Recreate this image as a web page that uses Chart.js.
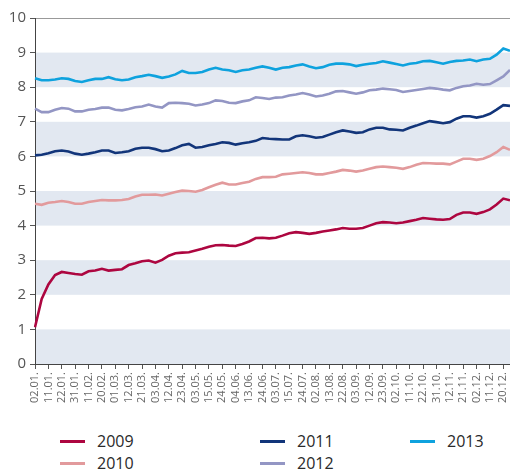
<!DOCTYPE html>
<html>
<head>
<meta charset="utf-8">
<script src="https://cdn.jsdelivr.net/npm/chart.js@4/dist/chart.umd.min.js"></script>
<style>
  html, body { margin: 0; padding: 0; background: #fff; }
  #wrap { position: relative; width: 510px; height: 472px; }
  #chartBox { position: absolute; left: 0; top: 0; width: 510px; height: 410px; }
  #legend {
    position: absolute; left: 60px; top: 430px;
    display: grid; grid-template-columns: 200px 150px 100px;
    grid-template-rows: 22px 22px; grid-auto-flow: column;
    font-family: "Open Sans", "DejaVu Sans", sans-serif; font-size: 16px; color: #2a2a2a;
  }
  .item { display: flex; align-items: center; height: 22px; }
  .sw { width: 25px; height: 3px; margin-right: 12px; }
</style>
</head>
<body>
<div id="wrap">
  <div id="chartBox"><canvas id="c" width="510" height="410"></canvas></div>
  <div id="legend"></div>
</div>
<script>
const tickLabels = ['02.01.','11.01.','22.01.','31.01.','11.02.','20.02.','01.03.','12.03.','21.03.','03.04.','12.04.','23.04.','03.05.','15.05.','24.05.','04.06.','13.06.','24.06.','03.07.','15.07.','24.07.','02.08.','13.08.','22.08.','03.09.','12.09.','23.09.','02.10.','11.10.','22.10.','31.10.','12.11.','21.11.','02.12.','11.12.','20.12.'];

const seriesNames = ['2009','2010','2011','2012','2013'];
const seriesColors = ['#ad0640','#e29a9c','#12357a','#9396c4','#0ea2de'];

const s2009 = [1.06,1.88,2.30,2.57,2.66,2.63,2.60,2.58,2.68,2.70,2.75,2.70,2.72,2.74,2.86,2.91,2.97,2.99,
  2.93,3.01,3.13,3.20,3.22,3.23,3.28,3.33,3.39,3.43,3.44,3.42,3.41,3.47,3.54,3.64,3.65,3.63,
  3.65,3.71,3.78,3.81,3.79,3.76,3.79,3.83,3.86,3.89,3.93,3.91,3.91,3.93,4.00,4.07,4.10,4.09,
  4.07,4.09,4.13,4.17,4.22,4.20,4.18,4.17,4.19,4.31,4.38,4.38,4.34,4.39,4.47,4.61,4.78,4.73];
const s2010 = [4.63,4.60,4.66,4.68,4.71,4.68,4.63,4.63,4.68,4.71,4.74,4.73,4.73,4.74,4.77,4.84,4.89,4.89,
  4.90,4.87,4.92,4.97,5.01,5.00,4.98,5.03,5.11,5.18,5.24,5.19,5.19,5.23,5.27,5.35,5.40,5.40,
  5.41,5.48,5.50,5.52,5.54,5.52,5.48,5.48,5.52,5.56,5.61,5.59,5.56,5.59,5.64,5.69,5.71,5.69,
  5.67,5.64,5.69,5.76,5.81,5.80,5.79,5.79,5.77,5.85,5.93,5.93,5.90,5.93,6.01,6.12,6.27,6.19];
const s2011 = [6.03,6.05,6.09,6.15,6.17,6.14,6.08,6.05,6.08,6.12,6.17,6.17,6.10,6.12,6.15,6.22,6.25,6.25,
  6.21,6.15,6.17,6.24,6.32,6.36,6.25,6.27,6.32,6.36,6.41,6.39,6.34,6.38,6.41,6.45,6.53,6.51,
  6.50,6.49,6.49,6.58,6.61,6.58,6.54,6.56,6.63,6.70,6.75,6.72,6.68,6.70,6.78,6.83,6.83,6.78,
  6.77,6.75,6.83,6.89,6.96,7.02,6.99,6.96,6.99,7.09,7.16,7.16,7.12,7.16,7.23,7.35,7.48,7.46];
const s2012 = [7.38,7.28,7.28,7.35,7.40,7.38,7.30,7.30,7.35,7.37,7.41,7.41,7.35,7.33,7.37,7.42,7.44,7.50,
  7.44,7.41,7.54,7.55,7.54,7.52,7.47,7.50,7.54,7.62,7.60,7.55,7.54,7.59,7.62,7.71,7.69,7.66,
  7.70,7.71,7.76,7.79,7.83,7.79,7.73,7.76,7.81,7.88,7.89,7.85,7.81,7.85,7.91,7.93,7.96,7.94,
  7.92,7.86,7.89,7.92,7.95,7.98,7.96,7.93,7.91,7.98,8.03,8.05,8.10,8.07,8.09,8.20,8.31,8.50];
const s2013 = [8.26,8.20,8.20,8.22,8.26,8.24,8.18,8.15,8.20,8.24,8.24,8.29,8.23,8.20,8.22,8.29,8.32,8.36,
  8.32,8.27,8.31,8.37,8.47,8.41,8.41,8.44,8.51,8.56,8.51,8.49,8.44,8.49,8.51,8.56,8.60,8.56,
  8.51,8.56,8.58,8.63,8.66,8.60,8.55,8.58,8.65,8.68,8.68,8.66,8.61,8.65,8.68,8.70,8.75,8.71,
  8.67,8.63,8.68,8.70,8.75,8.76,8.72,8.68,8.73,8.76,8.77,8.80,8.75,8.80,8.82,8.94,9.12,9.05];

const seriesValues = [s2009, s2010, s2011, s2012, s2013];
const bandRanges = [[0,1],[2,3],[4,5],[6,7],[8,9]];

// category list: each tick label followed by an unlabeled half-step sample
const categories = tickLabels.flatMap(l => [l, '']);

const bandsPlugin = {
  id: 'bands',
  beforeDraw(chart) {
    const { ctx, chartArea, scales } = chart;
    const y = scales.y;
    ctx.save();
    ctx.fillStyle = '#e2e8f1';
    bandRanges.forEach(([a, b]) => {
      const top = y.getPixelForValue(b);
      const bot = y.getPixelForValue(a);
      ctx.fillRect(chartArea.left, top, chartArea.right - chartArea.left, bot - top);
    });
    ctx.restore();
  }
};

const font = '"Open Sans", "DejaVu Sans", sans-serif';

new Chart(document.getElementById('c'), {
  type: 'line',
  data: {
    labels: categories,
    datasets: seriesNames.map((n, k) => ({
      label: n,
      data: seriesValues[k],
      borderColor: seriesColors[k],
      backgroundColor: seriesColors[k],
      borderWidth: 2.6,
      pointRadius: 0,
      tension: 0,
      fill: false
    })).reverse()
  },
  options: {
    responsive: false,
    animation: false,
    layout: { padding: { left: 0, right: 0, top: 18, bottom: 0 } },
    plugins: { legend: { display: false }, tooltip: { enabled: false } },
    scales: {
      x: {
        type: 'category',
        offset: false,
        grid: {
          drawOnChartArea: false, drawTicks: true, tickLength: 5, tickWidth: 1,
          tickColor: (c) => (c.index % 2 === 0 ? '#555' : 'rgba(0,0,0,0)')
        },
        border: { display: true, color: '#444', width: 1 },
        ticks: {
          autoSkip: false, maxRotation: 90, minRotation: 90, padding: 3,
          font: { family: font, size: 11 }, color: '#666'
        },
        afterFit(a) { a.height = 46; a.paddingLeft = 0; a.paddingRight = 0; }
      },
      y: {
        min: 0, max: 10,
        ticks: { stepSize: 1, padding: 4, font: { family: font, size: 15 }, color: '#555' },
        grid: {
          drawOnChartArea: true, drawTicks: true, tickLength: 5,
          color: (c) => (c.tick && c.tick.value === 10 ? '#999' : 'rgba(0,0,0,0)'),
          tickColor: '#555'
        },
        border: { display: true, color: '#444', width: 1 },
        afterFit(a) { a.width = 35; }
      }
    }
  },
  plugins: [bandsPlugin]
});

const legend = document.getElementById('legend');
seriesNames.forEach((n, k) => {
  const it = document.createElement('div');
  it.className = 'item';
  const sw = document.createElement('span');
  sw.className = 'sw';
  sw.style.background = seriesColors[k];
  const tx = document.createElement('span');
  tx.textContent = n;
  it.appendChild(sw); it.appendChild(tx);
  legend.appendChild(it);
});
</script>
</body>
</html>
